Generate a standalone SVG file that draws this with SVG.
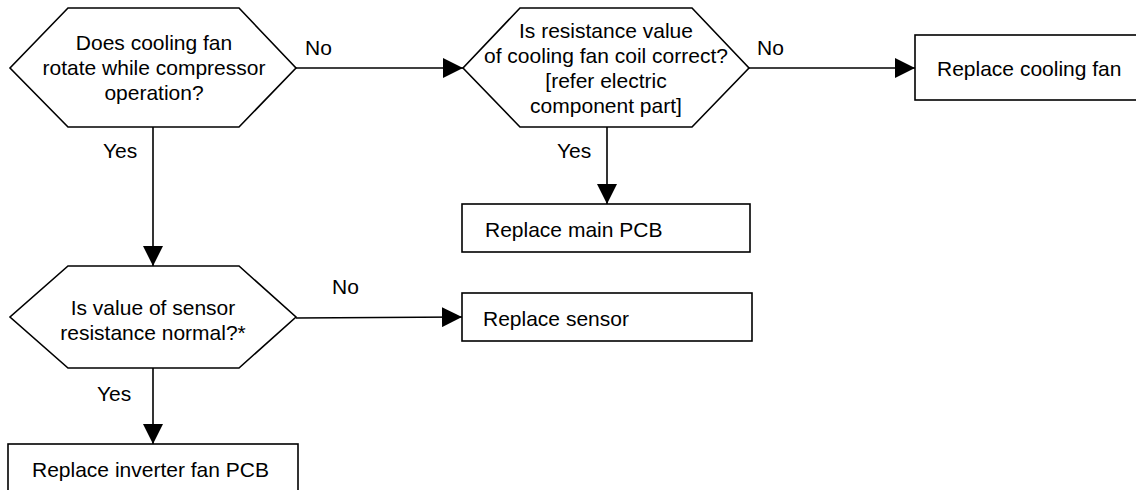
<svg xmlns="http://www.w3.org/2000/svg" width="1136" height="490" viewBox="0 0 1136 490">
<style>
text{font-family:"Liberation Sans",Arial,sans-serif;font-size:21px;fill:#000}
.c{text-anchor:middle}
.s{fill:#fff;stroke:#000;stroke-width:1.6}
.l{stroke:#000;stroke-width:1.6;fill:none}
</style>
<defs>
<marker id="a" markerWidth="20" markerHeight="20" refX="20" refY="10" orient="auto" markerUnits="userSpaceOnUse">
<path d="M0,0 L20,10 L0,20 Z" fill="#000"/>
</marker>
</defs>
<g id="connectors">
<line class="l" x1="296" y1="68" x2="463" y2="68" marker-end="url(#a)"/>
<line class="l" x1="749" y1="68" x2="915" y2="68" marker-end="url(#a)"/>
<line class="l" x1="607" y1="127" x2="607" y2="204" marker-end="url(#a)"/>
<line class="l" x1="153" y1="127" x2="153" y2="266" marker-end="url(#a)"/>
<line class="l" x1="296" y1="318" x2="462" y2="317" marker-end="url(#a)"/>
<line class="l" x1="153" y1="368" x2="153" y2="444" marker-end="url(#a)"/>
<text x="305" y="55">No</text>
<text x="757" y="55">No</text>
<text x="103" y="158">Yes</text>
<text x="557" y="158">Yes</text>
<text x="332" y="294">No</text>
<text x="97" y="401">Yes</text>
</g>
<g id="q1">
<polygon class="s" points="68,8 239,8 296,68 239,127 68,127 10,68"/>
<text class="c" x="154" y="50">Does cooling fan</text>
<text class="c" x="154" y="75">rotate while compressor</text>
<text class="c" x="154" y="100">operation?</text>
</g>
<g id="q2">
<polygon class="s" points="520,8 692,8 749,68 692,127 520,127 463,68"/>
<text class="c" x="606" y="38">Is resistance value</text>
<text class="c" x="606" y="63">of cooling fan coil correct?</text>
<text class="c" x="606" y="88">[refer electric</text>
<text class="c" x="606" y="113">component part]</text>
</g>
<g id="r1">
<rect class="s" x="915" y="35" width="240" height="65"/>
<text x="937" y="76">Replace cooling fan</text>
</g>
<g id="r2">
<rect class="s" x="462" y="204" width="288" height="48"/>
<text x="485" y="237">Replace main PCB</text>
</g>
<g id="q3">
<polygon class="s" points="68,266 239,266 296,317 239,368 68,368 10,317"/>
<text class="c" x="153" y="315">Is value of sensor</text>
<text class="c" x="153" y="340">resistance normal?*</text>
</g>
<g id="r3">
<rect class="s" x="462" y="293" width="290" height="48"/>
<text x="483" y="326">Replace sensor</text>
</g>
<g id="r4">
<rect class="s" x="8" y="444" width="290" height="60"/>
<text x="32" y="477">Replace inverter fan PCB</text>
</g>
</svg>
